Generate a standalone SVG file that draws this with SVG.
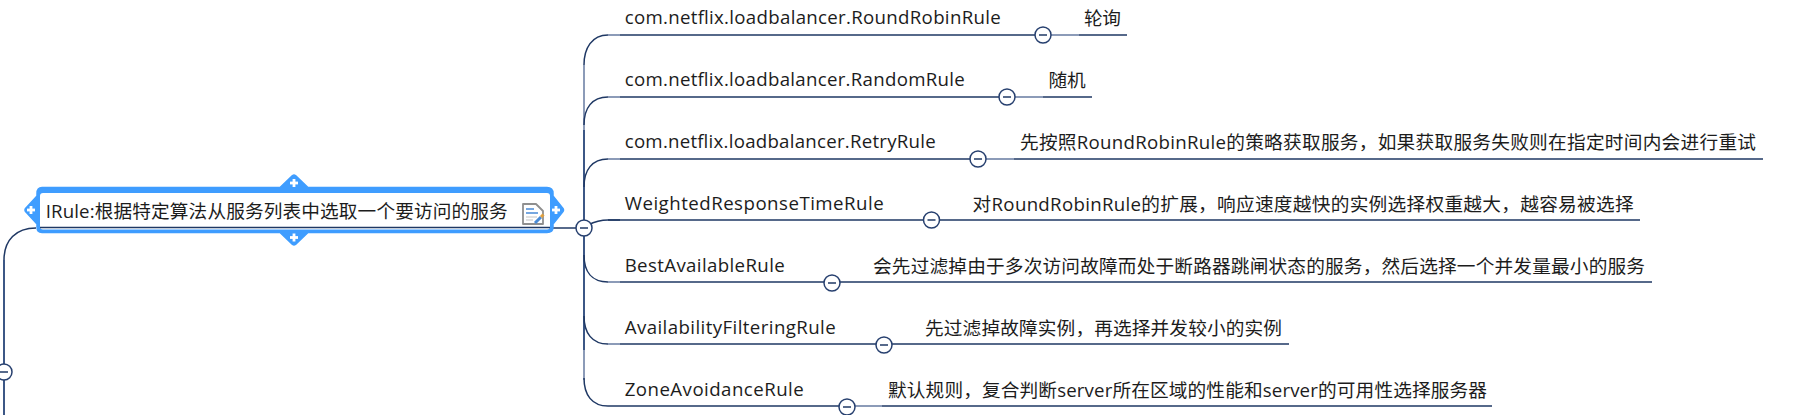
<svg xmlns="http://www.w3.org/2000/svg" width="1809" height="415" viewBox="0 0 1809 415">
<style>
text{font-family:"Open Sans","Noto Sans CJK SC","Noto Sans",sans-serif;font-size:18.67px;fill:#1c1c1c}
.l{fill:none;stroke:#1f3864;stroke-width:1.5}
.t{fill:none;stroke:#3c5786;stroke-width:2}
.p{fill:none;stroke:#8c9bb8;stroke-width:2}
.c{fill:#fff;stroke:#27406f;stroke-width:1.5}
.m{stroke:#1f3864;stroke-width:1.5}
.w{stroke:#fff;stroke-width:2.8}
</style>
<defs>
<g id="tog"><circle r="8" class="c"/><line x1="-4" x2="4" class="m"/></g>
<g id="plus"><line x1="-4" x2="4" class="w"/><line y1="-4" y2="4" class="w"/></g>
</defs>
<rect width="1809" height="415" fill="#fff"/>
<g id="connectors">
<path class="t" d="M584 65V350"/>
<path class="p" d="M584 65V130M584 350V380"/>
<path class="t" d="M584 210V350"/>
<path class="l" d="M608 35C592 35 584 48 584 65"/>
<path class="l" d="M608 97C592 97 584 108 584 125"/>
<path class="l" d="M608 159C592 159 584 170 584 187"/>
<path class="l" d="M620 220H608C600 220 594 222 588 225"/>
<path class="l" d="M584 255C584 272 592 282 608 282"/>
<path class="l" d="M584 316C584 333 592 344 608 344"/>
<path class="l" d="M584 378C584 395 592 406 608 406"/>
<path class="l" d="M608 35H1127M608 97H1092M608 159H1763M608 220H1640M608 282H1652M608 344H1289M608 406H1492"/>
<path class="p" d="M608 35H620M608 97H620M608 159H620M608 282H620M608 344H620M1051 35H1079M1015 97H1043M986 159H1014M855 406H882"/>
<path class="l" d="M552 228H576"/>
<path class="l" d="M36 228C16 228 4 240 4 260"/>
<path class="t" d="M4 260V415"/>
</g>
<g id="node-irule">
<path fill="#3f9dff" stroke="#3f9dff" stroke-width="1.500" stroke-linejoin="round" d="M42 187.500H280L292.500 175.500Q294 174.500 295.500 175.500L308 187.500H547Q553 187.500 553 193.500V196L563 208.500Q564 210 563 211.500L553 224V227Q553 232.500 547 232.500H308L295.500 244.500Q294 245.500 292.500 244.500L280 232.500H42Q37 232.500 37 227V224L25.500 211.500Q24.500 210 25.500 208.500L37 196V193.500Q37 187.500 42 187.500Z"/>
<rect x="40" y="193" width="510" height="36.500" rx="3" fill="#fff"/>
<line x1="40" y1="227.500" x2="550" y2="227.500" class="l"/>
<use href="#plus" x="294" y="183"/><use href="#plus" x="294" y="237.500"/>
<use href="#plus" x="31" y="210"/><use href="#plus" x="556" y="210"/>
<text x="45.700" y="218" textLength="462" lengthAdjust="spacing">IRule:根据特定算法从服务列表中选取一个要访问的服务</text>
<g id="note-icon">
<path d="M523 204H536L543 211V224H523Z" fill="#fff" stroke="#8f8f8f" stroke-width="1.800" stroke-linejoin="round"/>
<path d="M526 209H534M526 213H538" stroke="#4a8bd6" stroke-width="1.500"/>
<path d="M526 217H537M526 220H533" stroke="#c4c4c4" stroke-width="1.200"/>
<path d="M535 223L541 217" stroke="#4a8bd6" stroke-width="3"/>
<path d="M541 217L543.500 214.500" stroke="#e0a040" stroke-width="3"/>
</g>
</g>
<g id="toggle-irule"><use href="#tog" x="584" y="228"/></g>
<g id="toggle-root"><use href="#tog" x="4" y="372"/></g>
<g id="node-roundrobin"><text x="624.700" y="24" textLength="376" lengthAdjust="spacing">com.netflix.loadbalancer.RoundRobinRule</text><use href="#tog" x="1043" y="35"/></g>
<g id="desc-roundrobin"><text x="1084" y="25" textLength="37" lengthAdjust="spacing">轮询</text></g>
<g id="node-random"><text x="624.700" y="86" textLength="340" lengthAdjust="spacing">com.netflix.loadbalancer.RandomRule</text><use href="#tog" x="1007" y="97"/></g>
<g id="desc-random"><text x="1048.600" y="87" textLength="37" lengthAdjust="spacing">随机</text></g>
<g id="node-retry"><text x="624.700" y="148" textLength="311" lengthAdjust="spacing">com.netflix.loadbalancer.RetryRule</text><use href="#tog" x="978" y="159"/></g>
<g id="desc-retry"><text x="1020" y="149" textLength="736" lengthAdjust="spacing">先按照RoundRobinRule的策略获取服务，如果获取服务失败则在指定时间内会进行重试</text></g>
<g id="node-weighted"><text x="624.700" y="210" textLength="259" lengthAdjust="spacing">WeightedResponseTimeRule</text><use href="#tog" x="931.500" y="220"/></g>
<g id="desc-weighted"><text x="972.600" y="211" textLength="661" lengthAdjust="spacing">对RoundRobinRule的扩展，响应速度越快的实例选择权重越大，越容易被选择</text></g>
<g id="node-best"><text x="624.700" y="272" textLength="160" lengthAdjust="spacing">BestAvailableRule</text><use href="#tog" x="832" y="283"/></g>
<g id="desc-best"><text x="873" y="273" textLength="772" lengthAdjust="spacing">会先过滤掉由于多次访问故障而处于断路器跳闸状态的服务，然后选择一个并发量最小的服务</text></g>
<g id="node-avail"><text x="624.700" y="334" textLength="211" lengthAdjust="spacing">AvailabilityFilteringRule</text><use href="#tog" x="884" y="345"/></g>
<g id="desc-avail"><text x="925" y="335" textLength="357" lengthAdjust="spacing">先过滤掉故障实例，再选择并发较小的实例</text></g>
<g id="node-zone"><text x="624.700" y="396" textLength="179" lengthAdjust="spacing">ZoneAvoidanceRule</text><use href="#tog" x="847" y="407"/></g>
<g id="desc-zone"><text x="888" y="397" textLength="599" lengthAdjust="spacing">默认规则，复合判断server所在区域的性能和server的可用性选择服务器</text></g>
</svg>
